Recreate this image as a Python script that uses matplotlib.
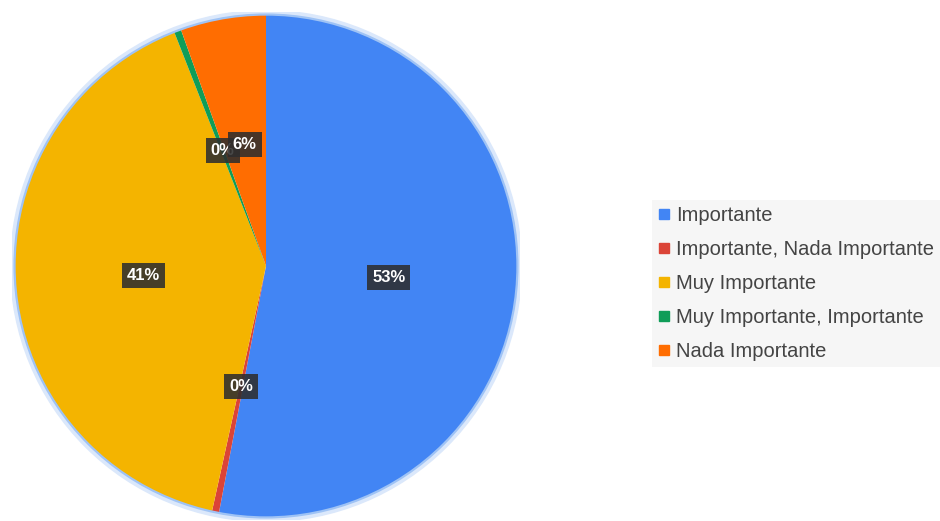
import matplotlib.pyplot as plt
from matplotlib.patches import Circle
from matplotlib.lines import Line2D

plt.rcParams['font.family'] = ['Liberation Sans', 'DejaVu Sans']

categorias = ["Importante", "Importante, Nada Importante", "Muy Importante",
              "Muy Importante, Importante", "Nada Importante"]
porcentajes = [53.0, 0.45, 40.6, 0.45, 5.5]
colores = ["#4285f4", "#db4437", "#f4b400", "#0f9d58", "#ff6d01"]

fig = plt.figure(figsize=(9.4, 5.21), dpi=100, facecolor="white")

# pie ocupa un cuadrado de 508 px, centro en (266, 266)
ax = fig.add_axes([12/940, 1/521, 508/940, 508/521])

wedges, texts, autotexts = ax.pie(porcentajes, colors=colores, startangle=90, counterclock=False,
                                  radius=0.99, autopct="%.0f%%", pctdistance=0.49,
                                  wedgeprops=dict(linewidth=0))
ax.set_xlim(-1, 1)
ax.set_ylim(-1, 1)
ax.set_aspect("equal")
ax.axis("off")

for t in autotexts:
    t.set_color("white")
    t.set_fontsize(12)
    t.set_fontweight("bold")
    t.set_bbox(dict(boxstyle="square,pad=0.3", facecolor="#2e2e2e", edgecolor="none", alpha=0.88))

# borde azul claro alrededor del pie
ax.add_patch(Circle((0, 0), 0.995, fill=False, edgecolor="#dbe8fb", linewidth=5, zorder=0))
ax.add_patch(Circle((0, 0), 0.99, fill=False, edgecolor="#9fc3f5", linewidth=1.6, zorder=5))

handles = [Line2D([], [], marker="s", linestyle="none", markersize=7, markerfacecolor=c,
                  markeredgecolor=c) for c in colores]
leg = fig.legend(handles, categorias, loc="upper left", bbox_to_anchor=(652/940, 1 - 200/521),
                 frameon=True, facecolor="#f6f6f6", edgecolor="none", fancybox=False,
                 fontsize=14.5, labelspacing=0.75, handlelength=0.6, handletextpad=0.3,
                 borderpad=0.3, borderaxespad=0)
for txt in leg.get_texts():
    txt.set_color("#444444")
leg.get_frame().set_alpha(1)

fig.savefig("out.png", dpi=100, facecolor="white")
